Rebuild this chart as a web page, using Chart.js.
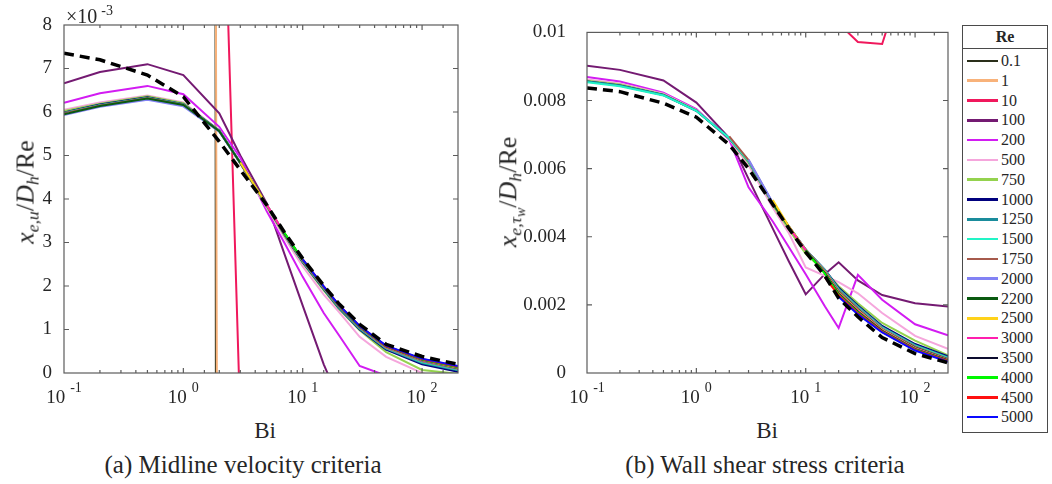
<!DOCTYPE html>
<html>
<head>
<meta charset="utf-8">
<title>Entrance length vs Bi</title>
<script src="https://cdn.jsdelivr.net/npm/chart.js@4.4.1/dist/chart.umd.min.js"></script>
<style>
  body { margin: 0; background: #fff; width: 1052px; height: 484px; position: relative; overflow: hidden;
         font-family: "Liberation Serif", "Times New Roman", Tinos, "DejaVu Serif", "Noto Serif", serif; color: #262626; }
  canvas { position: absolute; top: 0; }
  #chartA { left: 0; }
  #chartB { left: 480px; }
  .ylab { position: absolute; transform: translate(-50%, -50%) rotate(-90deg); white-space: nowrap; font-size: 26px; }
  .ylab sub { font-size: 68%; vertical-align: -0.28em; }
  .ylab sub sub { font-size: 80%; vertical-align: -0.25em; }
  .xlab { position: absolute; transform: translate(-50%, -50%); font-size: 23px; }
  .caption { position: absolute; transform: translate(-50%, -50%); font-size: 25px; white-space: nowrap; }
  #scaleNote { position: absolute; left: 66px; top: 3px; font-size: 20px; }
  #scaleNote sup { font-size: 14px; vertical-align: 8px; margin-left: 4px; }
  #legend { position: absolute; left: 962px; top: 25px; width: 86px; height: 408px; box-sizing: border-box;
            border: 1.3px solid #4a4a4a; background: #fff; }
  #legend .lgTitle { height: 22px; line-height: 22px; border-bottom: 1px solid #4a4a4a; text-align: center;
                     font-weight: bold; font-size: 16px; }
  #lgItems { padding-top: 2px; }
  .lgRow { height: 19.8px; display: flex; align-items: center; font-size: 16px; }
  .lgLine { margin-left: 3.5px; width: 31.5px; height: 2.5px; }
  .lgText { margin-left: 3px; line-height: 19.8px; }
</style>
</head>
<body>
<canvas id="chartA" width="480" height="410"></canvas>
<canvas id="chartB" width="480" height="410"></canvas>

<div id="scaleNote">×10<sup>-3</sup></div>
<div class="ylab" style="left:27px; top:192px;"><i>x</i><sub><i>e,u</i></sub>/<i>D</i><sub><i>h</i></sub>/Re</div>
<div class="ylab" style="left:511px; top:192px;"><i>x</i><sub><i>e,τ<sub>w</sub></i></sub>/<i>D</i><sub><i>h</i></sub>/Re</div>
<div class="xlab" style="left:265px; top:431px;">Bi</div>
<div class="xlab" style="left:767px; top:431px;">Bi</div>
<div class="caption" style="left:243px; top:465px;">(a) Midline velocity criteria</div>
<div class="caption" style="left:765px; top:465px;">(b) Wall shear stress criteria</div>

<div id="legend">
  <div class="lgTitle">Re</div>
  <div id="lgItems"></div>
</div>

<script>
// Biot numbers of the runs
const bi = [0.1, 0.2, 0.5, 1, 2, 3, 5, 7, 10, 15, 20, 30, 50, 100, 200];
const xTickPowers = [-1, 0, 1, 2];

const reLabels = ['0.1', '1', '10', '100', '200', '500', '750', '1000', '1250', '1500',
                  '1750', '2000', '2200', '2500', '3000', '3500', '4000', '4500', '5000'];
const reColors = ['#2a2f1a', '#f8b27a', '#f0185c', '#741a72', '#d21cf2', '#f5a6dc', '#94d24e', '#00007e', '#1a8c9c', '#22f4c6',
                  '#a65a4c', '#8282f4', '#0a5a10', '#ffd21a', '#ff1eae', '#0c0c2e', '#00f800', '#ff1010', '#0a0aff'];

const n = null;

// (a) midline velocity entrance length x_e,u/D_h/Re, in units of 1e-3
const u_0_1  = [1250, 1245, 1230, 1150, -80, n, n, n, n, n, n, n, n, n, n];
const u_1    = [330, 328, 322, 300, -22, n, n, n, n, n, n, n, n, n, n];
const u_10   = [17.2, 17.0, 16.5, 15.9, 14.8, -1.1, n, n, n, n, n, n, n, n, n];
const u_100  = [6.66, 6.92, 7.10, 6.85, 5.97, 5.00, 3.90, 2.75, 1.55, 0.20, -0.60, n, n, n, n];
const u_200  = [6.21, 6.43, 6.60, 6.41, 5.66, 4.95, 3.72, 3.00, 2.21, 1.38, 0.88, 0.16, -0.06, n, n];
const u_500  = [6.05, 6.22, 6.38, 6.22, 5.58, 4.81, 3.80, 3.12, 2.45, 1.80, 1.41, 0.83, 0.37, 0.00, -0.25];
const u_750  = [6.02, 6.19, 6.36, 6.20, 5.57, 4.82, 3.83, 3.17, 2.53, 1.90, 1.48, 0.98, 0.48, 0.07, -0.02];
const u_1000 = [5.99, 6.17, 6.34, 6.18, 5.57, 4.83, 3.85, 3.19, 2.55, 1.93, 1.50, 1.00, 0.54, 0.20, 0.03];
const u_1250 = [5.98, 6.16, 6.33, 6.18, 5.57, 4.83, 3.85, 3.20, 2.56, 1.94, 1.51, 1.02, 0.56, 0.23, 0.06];
const u_1500 = [5.97, 6.15, 6.32, 6.17, 5.56, 4.83, 3.86, 3.20, 2.57, 1.95, 1.52, 1.03, 0.57, 0.25, 0.08];
const u_1750 = [5.97, 6.15, 6.32, 6.17, 5.56, 4.83, 3.86, 3.21, 2.58, 1.96, 1.53, 1.04, 0.58, 0.27, 0.09];
const u_2000 = [5.93, 6.12, 6.28, 6.13, 5.55, 4.83, 3.86, 3.21, 2.58, 1.96, 1.54, 1.05, 0.59, 0.28, 0.10];
const u_2200 = [5.95, 6.14, 6.31, 6.16, 5.56, 4.83, 3.86, 3.21, 2.59, 1.97, 1.54, 1.05, 0.60, 0.29, 0.11];
const u_2500 = [n, n, n, n, n, 4.84, 3.86, 3.22, 2.59, 1.97, 1.55, 1.06, 0.60, 0.30, 0.12];
const u_3000 = [n, n, n, n, n, n, 3.87, 3.22, 2.59, 1.97, 1.55, 1.06, 0.61, 0.30, 0.13];
const u_3500 = [n, n, n, n, n, n, n, 3.22, 2.60, 1.98, 1.56, 1.07, 0.61, 0.31, 0.14];
const u_4000 = [n, n, n, n, n, n, n, 3.23, 2.60, 1.98, 1.56, 1.07, 0.62, 0.31, 0.14];
const u_4500 = [n, n, n, n, n, n, n, n, 2.61, 1.99, 1.57, 1.08, 0.62, 0.32, 0.15];
const u_5000 = [n, n, n, n, n, n, n, n, 2.61, 1.99, 1.57, 1.08, 0.63, 0.33, 0.16];
const u_corr = [7.35, 7.20, 6.85, 6.35, 5.32, 4.67, 3.86, 3.24, 2.63, 2.01, 1.60, 1.12, 0.66, 0.38, 0.20];

// (b) wall shear stress entrance length x_e,tw/D_h/Re
const tw_0_1  = [n, n, n, n, n, n, n, n, n, n, n, n, n, n, n];
const tw_1    = [n, n, n, n, n, n, n, n, n, n, n, n, n, n, n];
const tw_10   = [n, n, n, n, n, n, n, n, n, 0.01090, 0.01026, 0.00972, 0.00966, 0.01270, n];
const tw_100  = [0.00902, 0.00890, 0.00859, 0.00794, 0.00690, 0.00570, 0.00424, 0.00328, 0.00231, 0.00291, 0.00325, 0.00272, 0.00229, 0.00205, 0.00195];
const tw_200  = [0.00869, 0.00856, 0.00823, 0.00775, 0.00685, 0.00545, 0.00445, 0.00370, 0.00290, 0.00195, 0.00132, 0.00288, 0.00215, 0.00143, 0.00111];
const tw_500  = [0.00862, 0.00850, 0.00820, 0.00772, 0.00686, 0.00610, 0.00485, 0.00411, 0.00310, 0.00285, 0.00267, 0.00234, 0.00176, 0.00109, 0.00071];
const tw_750  = [0.00858, 0.00847, 0.00818, 0.00771, 0.00688, 0.00618, 0.00493, 0.00422, 0.00350, 0.00298, 0.00255, 0.00205, 0.00147, 0.00095, 0.00052];
const tw_1000 = [0.00856, 0.00844, 0.00816, 0.00770, 0.00689, 0.00622, 0.00497, 0.00430, 0.00362, 0.00303, 0.00250, 0.00198, 0.00138, 0.00085, 0.00049];
const tw_1250 = [0.00856, 0.00844, 0.00816, 0.00770, 0.00689, 0.00622, 0.00497, 0.00430, 0.00362, 0.00302, 0.00247, 0.00195, 0.00135, 0.00082, 0.00046];
const tw_1500 = [0.00854, 0.00842, 0.00815, 0.00770, 0.00690, 0.00622, 0.00498, 0.00430, 0.00362, 0.00301, 0.00245, 0.00193, 0.00133, 0.00080, 0.00044];
const tw_1750 = [n, n, n, n, 0.00695, 0.00625, 0.00498, 0.00430, 0.00362, 0.00300, 0.00243, 0.00191, 0.00131, 0.00078, 0.00042];
const tw_2000 = [n, n, n, n, n, 0.00627, 0.00500, 0.00431, 0.00362, 0.00299, 0.00241, 0.00189, 0.00130, 0.00076, 0.00041];
const tw_2200 = [n, n, n, n, n, n, 0.00498, 0.00430, 0.00361, 0.00298, 0.00239, 0.00187, 0.00128, 0.00075, 0.00040];
const tw_2500 = [n, n, n, n, n, n, 0.00508, 0.00431, 0.00361, 0.00297, 0.00237, 0.00185, 0.00127, 0.00073, 0.00039];
const tw_3000 = [n, n, n, n, n, n, n, 0.00428, 0.00360, 0.00295, 0.00235, 0.00183, 0.00125, 0.00072, 0.00038];
const tw_3500 = [n, n, n, n, n, n, n, n, 0.00360, 0.00293, 0.00233, 0.00180, 0.00124, 0.00070, 0.00037];
const tw_4000 = [n, n, n, n, n, n, n, n, 0.00359, 0.00291, 0.00231, 0.00178, 0.00122, 0.00069, 0.00036];
const tw_4500 = [n, n, n, n, n, n, n, n, n, 0.00280, 0.00228, 0.00175, 0.00121, 0.00068, 0.00035];
const tw_5000 = [n, n, n, n, n, n, n, n, n, n, 0.00224, 0.00172, 0.00119, 0.00066, 0.00033];
const tw_corr = [0.00837, 0.00826, 0.00792, 0.00751, 0.00670, 0.00600, 0.00495, 0.00425, 0.00355, 0.00285, 0.00220, 0.00165, 0.00104, 0.00057, 0.00030];

const uSeries = [u_0_1, u_1, u_10, u_100, u_200, u_500, u_750, u_1000, u_1250, u_1500,
                 u_1750, u_2000, u_2200, u_2500, u_3000, u_3500, u_4000, u_4500, u_5000];
const twSeries = [tw_0_1, tw_1, tw_10, tw_100, tw_200, tw_500, tw_750, tw_1000, tw_1250, tw_1500,
                  tw_1750, tw_2000, tw_2200, tw_2500, tw_3000, tw_3500, tw_4000, tw_4500, tw_5000];

const FONT = '"Liberation Serif", "Times New Roman", Tinos, "DejaVu Serif", "Noto Serif", serif';
const TEXT = '#262626';
const FRAME = '#5c5c5c';

function isDecade(v) {
  const lg = Math.log10(v);
  return Math.abs(lg - Math.round(lg)) < 1e-6;
}

// box around the axes, inward tick marks and 10^k labels
const axisFrame = {
  id: 'axisFrame',
  afterDraw(chart) {
    const { ctx, chartArea: a } = chart;
    const xs = chart.scales.x, ys = chart.scales.y;
    ctx.save();
    ctx.strokeStyle = FRAME;
    ctx.lineWidth = 1.2;
    ctx.strokeRect(a.left, a.top, a.right - a.left, a.bottom - a.top);
    ctx.beginPath();
    xs.ticks.forEach(t => {
      const px = xs.getPixelForValue(t.value);
      if (px < a.left + 1 || px > a.right - 1) return;
      const len = isDecade(t.value) ? 5 : 3;
      ctx.moveTo(px, a.bottom); ctx.lineTo(px, a.bottom - len);
      ctx.moveTo(px, a.top); ctx.lineTo(px, a.top + len);
    });
    ys.ticks.forEach(t => {
      const py = ys.getPixelForValue(t.value);
      if (py < a.top + 1 || py > a.bottom - 1) return;
      ctx.moveTo(a.left, py); ctx.lineTo(a.left + 5, py);
      ctx.moveTo(a.right, py); ctx.lineTo(a.right - 5, py);
    });
    ctx.stroke();

    ctx.fillStyle = TEXT;
    ctx.textBaseline = 'alphabetic';
    ctx.textAlign = 'left';
    xTickPowers.forEach(p => {
      const px = xs.getPixelForValue(Math.pow(10, p));
      ctx.font = '19px ' + FONT;
      const w1 = ctx.measureText('10').width;
      ctx.font = '14px ' + FONT;
      const exp = String(p);
      const w2 = ctx.measureText(exp).width;
      const x0 = px - (w1 + 5 + w2) / 2;
      ctx.font = '19px ' + FONT;
      ctx.fillText('10', x0, a.bottom + 30);
      ctx.font = '14px ' + FONT;
      ctx.fillText(exp, x0 + w1 + 5, a.bottom + 19);
    });
    ctx.restore();
  }
};

function buildDatasets(series, corr) {
  const sets = series.map((vals, i) => ({
    label: reLabels[i],
    data: vals.map((v, j) => ({ x: bi[j], y: v })),
    borderColor: reColors[i],
    borderWidth: 2,
    order: series.length - i
  }));
  sets.push({
    label: 'correlation',
    data: corr.map((v, j) => ({ x: bi[j], y: v })),
    borderColor: '#000',
    borderWidth: 3.5,
    borderDash: [10, 6],
    order: 0
  });
  return sets;
}

function makeChart(id, series, corr, yAxis, axisWidth, rightPad) {
  return new Chart(document.getElementById(id), {
    type: 'line',
    data: { datasets: buildDatasets(series, corr) },
    options: {
      responsive: false,
      animation: false,
      devicePixelRatio: 1,
      layout: { padding: { top: 25, right: rightPad, bottom: 0, left: 0 } },
      plugins: { legend: { display: false }, tooltip: { enabled: false } },
      elements: { point: { radius: 0 }, line: { tension: 0, borderCapStyle: 'butt' } },
      scales: {
        x: {
          type: 'logarithmic', min: 0.1, max: 200,
          grid: { display: false, drawTicks: false },
          border: { display: false },
          ticks: { display: false },
          afterFit: s => { s.height = 37; }
        },
        y: Object.assign({
          grid: { display: false, drawTicks: false },
          border: { display: false },
          afterFit: s => { s.width = axisWidth; }
        }, yAxis)
      }
    },
    plugins: [axisFrame]
  });
}

makeChart('chartA', uSeries, u_corr, {
  min: 0, max: 8,
  ticks: { stepSize: 1, padding: 12, color: TEXT, font: { family: FONT, size: 19 } }
}, 64, 22);

makeChart('chartB', twSeries, tw_corr, {
  min: 0, max: 0.01,
  ticks: {
    stepSize: 0.002, padding: 21, color: TEXT, font: { family: FONT, size: 19 },
    callback: v => v === 0 ? '0' : String(+v.toFixed(3))
  }
}, 107, 12);

// legend
const lg = document.getElementById('lgItems');
reLabels.forEach((lab, i) => {
  const row = document.createElement('div');
  row.className = 'lgRow';
  row.innerHTML = '<span class="lgLine" style="background:' + reColors[i] + '"></span><span class="lgText">' + lab + '</span>';
  lg.appendChild(row);
});
</script>
</body>
</html>
